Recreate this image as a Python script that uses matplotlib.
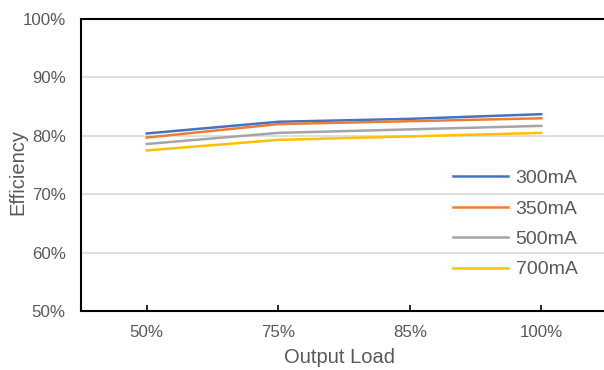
import matplotlib
matplotlib.use("Agg")
import matplotlib.pyplot as plt
from matplotlib.ticker import FuncFormatter

categories = ["50%", "75%", "85%", "100%"]
series_names = ["300mA", "350mA", "500mA", "700mA"]
eff_300 = [80.4, 82.4, 82.9, 83.7]
eff_350 = [79.7, 82.0, 82.5, 83.0]
eff_500 = [78.6, 80.5, 81.1, 81.7]
eff_700 = [77.5, 79.3, 79.9, 80.5]
colors = ["#4472C4", "#ED7D31", "#A5A5A5", "#FFC000"]

plt.rcParams['font.family'] = ['Liberation Sans', 'DejaVu Sans']
text_color = "#595959"

fig = plt.figure(figsize=(6.04, 3.70), dpi=100)
W, H = 604, 370
AW, AH = 607 - 81, 311 - 19
ax = fig.add_axes([81 / W, 1 - 311 / H, AW / W, AH / H])

x = list(range(len(categories)))
for name, vals, c in zip(series_names, [eff_300, eff_350, eff_500, eff_700], colors):
    ax.plot(x, vals, color=c, lw=1.8, label=name)

ax.set_xlim(-0.5, len(categories) - 0.5)
ax.set_ylim(50, 100)
ax.set_yticks([50, 60, 70, 80, 90, 100])
ax.yaxis.set_major_formatter(FuncFormatter(lambda v, p: f"{int(v)}%"))
ax.set_xticks(x)
ax.set_xticklabels(categories)
ax.grid(axis='y', color="#D9D9D9", lw=1.2)
ax.set_axisbelow(True)

for s in ['left', 'bottom', 'top']:
    ax.spines[s].set_color('black')
    ax.spines[s].set_linewidth(1.5)
ax.spines['right'].set_visible(False)

ax.tick_params(axis='y', length=0, pad=11, labelsize=12.2, labelcolor=text_color)
ax.tick_params(axis='x', direction='in', length=4, width=1.2, pad=10,
               labelsize=12.2, labelcolor=text_color)

ax.set_xlabel("Output Load", fontsize=14.5, color=text_color)
ax.xaxis.set_label_coords((339 - 81) / AW, -(348 - 311) / AH)
ax.set_ylabel("Efficiency", fontsize=14.5, color=text_color)
ax.yaxis.set_label_coords((27 - 81) / AW, (311 - 172) / AH)

leg = ax.legend(loc='upper left', bbox_to_anchor=((435 - 81) / AW, (311 - 152) / AH),
                frameon=False, fontsize=14, handlelength=2.85, labelspacing=0.66,
                handletextpad=0.4, labelcolor=text_color)

fig.savefig("out.png", dpi=100)
